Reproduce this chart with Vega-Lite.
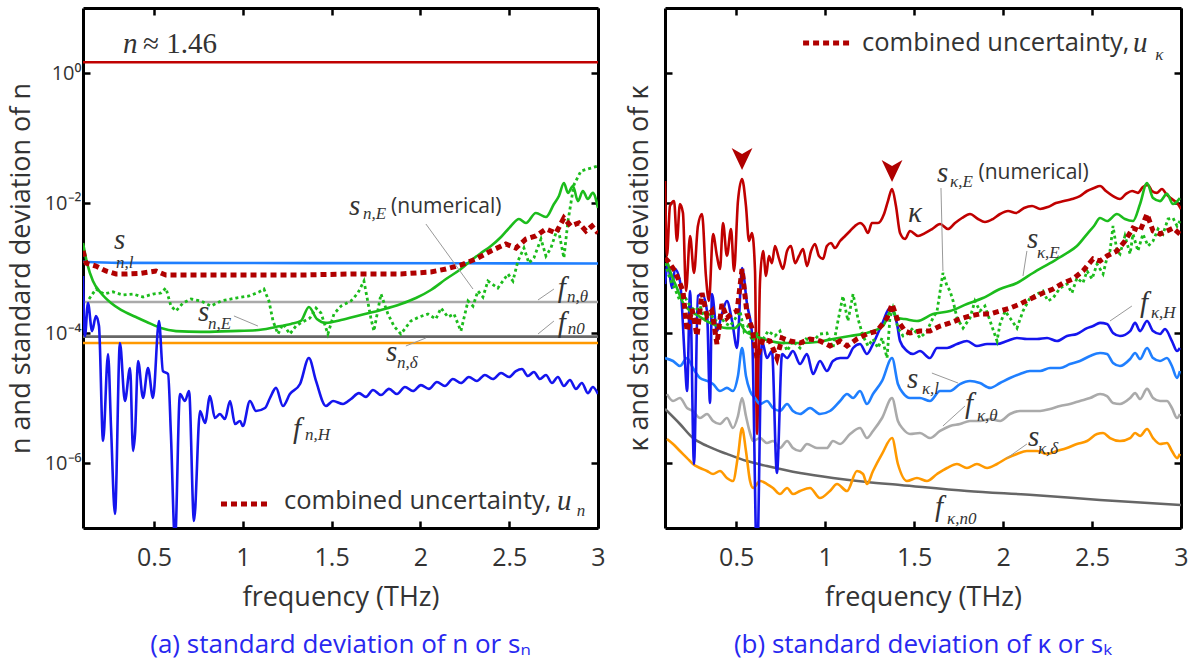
{
  "$schema": "https://vega.github.io/schema/vega-lite/v6.json",
  "padding": {"left": 7, "top": 6, "right": 0, "bottom": 6},
  "spacing": 19,
  "config": {
    "view": {"stroke": null},
    "axis": {"domainColor": "black", "domainWidth": 3, "tickColor": "black", "tickWidth": 2.5, "tickSize": -7, "labelColor": "#333333", "titleColor": "#333333", "labelFont": "Open Sans", "titleFont": "Open Sans", "titleFontWeight": "normal", "grid": false, "zindex": 1}
  },
  "datasets": {
    "a": [
      {"s":"n","f":0.1,"v":1.46},{"s":"n","f":3.0,"v":1.46},
      {"s":"s_nl","f":0.1,"v":1.25e-3},{"s":"s_nl","f":0.3,"v":1.2e-3},{"s":"s_nl","f":1.4,"v":1.19e-3},{"s":"s_nl","f":3.0,"v":1.17e-3},
      {"s":"f_ntheta","f":0.1,"v":3.0e-4},{"s":"f_ntheta","f":3.0,"v":3.0e-4},
      {"s":"f_n0","f":0.1,"v":8.8e-5},{"s":"f_n0","f":3.0,"v":8.8e-5},
      {"s":"s_ndelta","f":0.1,"v":7.0e-5},{"s":"s_ndelta","f":3.0,"v":7.0e-5},
      {"s":"s_nE","f":0.1,"v":2.42e-3},{"s":"s_nE","f":0.123,"v":1.19e-3},{"s":"s_nE","f":0.156,"v":6.31e-4},{"s":"s_nE","f":0.201,"v":4.12e-4},{"s":"s_nE","f":0.258,"v":2.89e-4},{"s":"s_nE","f":0.314,"v":2.26e-4},{"s":"s_nE","f":0.398,"v":1.76e-4},{"s":"s_nE","f":0.483,"v":1.38e-4},{"s":"s_nE","f":0.539,"v":1.19e-4},{"s":"s_nE","f":0.624,"v":1.07e-4},{"s":"s_nE","f":0.764,"v":1.04e-4},{"s":"s_nE","f":0.933,"v":1.07e-4},{"s":"s_nE","f":1.074,"v":1.1e-4},{"s":"s_nE","f":1.187,"v":1.24e-4},{"s":"s_nE","f":1.271,"v":1.38e-4},{"s":"s_nE","f":1.327,"v":1.53e-4},{"s":"s_nE","f":1.372,"v":2.51e-4},{"s":"s_nE","f":1.417,"v":1.64e-4},{"s":"s_nE","f":1.468,"v":1.43e-4},{"s":"s_nE","f":1.553,"v":1.58e-4},{"s":"s_nE","f":1.665,"v":1.89e-4},{"s":"s_nE","f":1.778,"v":2.26e-4},{"s":"s_nE","f":1.89,"v":2.79e-4},{"s":"s_nE","f":1.975,"v":3.45e-4},{"s":"s_nE","f":2.059,"v":4.59e-4},{"s":"s_nE","f":2.144,"v":6.77e-4},{"s":"s_nE","f":2.228,"v":9.65e-4},{"s":"s_nE","f":2.296,"v":1.38e-3},{"s":"s_nE","f":2.341,"v":1.7e-3},{"s":"s_nE","f":2.397,"v":2.18e-3},{"s":"s_nE","f":2.454,"v":3.0e-3},{"s":"s_nE","f":2.51,"v":4.43e-3},{"s":"s_nE","f":2.555,"v":5.67e-3},{"s":"s_nE","f":2.594,"v":4.92e-3},{"s":"s_nE","f":2.65,"v":7.02e-3},{"s":"s_nE","f":2.707,"v":6.09e-3},{"s":"s_nE","f":2.752,"v":9.65e-3},{"s":"s_nE","f":2.78,"v":1.28e-2},{"s":"s_nE","f":2.808,"v":2.03e-2},{"s":"s_nE","f":2.831,"v":1.43e-2},{"s":"s_nE","f":2.859,"v":1.83e-2},{"s":"s_nE","f":2.887,"v":1.07e-2},{"s":"s_nE","f":2.915,"v":1.53e-2},{"s":"s_nE","f":2.943,"v":1.15e-2},{"s":"s_nE","f":2.971,"v":1.43e-2},{"s":"s_nE","f":3.0,"v":8.38e-3},
      {"s":"f_nH","f":0.1,"v":7.53e-4},{"s":"f_nH","f":0.111,"v":9.0e-5},{"s":"f_nH","f":0.128,"v":2.89e-4},{"s":"f_nH","f":0.151,"v":1.07e-4},{"s":"f_nH","f":0.173,"v":1.83e-4},{"s":"f_nH","f":0.19,"v":1.28e-4},{"s":"f_nH","f":0.213,"v":2.18e-6},{"s":"f_nH","f":0.241,"v":4.75e-5},{"s":"f_nH","f":0.258,"v":3.45e-6},{"s":"f_nH","f":0.28,"v":1.64e-7},{"s":"f_nH","f":0.308,"v":7.02e-5},{"s":"f_nH","f":0.336,"v":9.0e-6},{"s":"f_nH","f":0.365,"v":2.89e-5},{"s":"f_nH","f":0.382,"v":1.53e-6},{"s":"f_nH","f":0.393,"v":2.79e-6},{"s":"f_nH","f":0.41,"v":3.71e-5},{"s":"f_nH","f":0.438,"v":1.0e-5},{"s":"f_nH","f":0.466,"v":2.89e-5},{"s":"f_nH","f":0.494,"v":1.0e-5},{"s":"f_nH","f":0.528,"v":1.53e-4},{"s":"f_nH","f":0.55,"v":2.6e-5},{"s":"f_nH","f":0.579,"v":2.34e-5},{"s":"f_nH","f":0.595,"v":2.79e-6},{"s":"f_nH","f":0.618,"v":6.3e-8},{"s":"f_nH","f":0.646,"v":1.15e-5},{"s":"f_nH","f":0.674,"v":9.0e-6},{"s":"f_nH","f":0.697,"v":1.28e-5},{"s":"f_nH","f":0.725,"v":1.28e-7},{"s":"f_nH","f":0.759,"v":6.31e-6},{"s":"f_nH","f":0.787,"v":4.12e-6},{"s":"f_nH","f":0.815,"v":1.07e-5},{"s":"f_nH","f":0.843,"v":4.92e-6},{"s":"f_nH","f":0.871,"v":5.67e-6},{"s":"f_nH","f":0.899,"v":4.75e-6},{"s":"f_nH","f":0.928,"v":9.0e-6},{"s":"f_nH","f":0.956,"v":3.98e-6},{"s":"f_nH","f":0.984,"v":4.43e-6},{"s":"f_nH","f":1.0,"v":3.71e-6},{"s":"f_nH","f":1.04,"v":9.0e-6},{"s":"f_nH","f":1.074,"v":6.31e-6},{"s":"f_nH","f":1.125,"v":7.02e-6},{"s":"f_nH","f":1.153,"v":1.0e-5},{"s":"f_nH","f":1.187,"v":1.43e-5},{"s":"f_nH","f":1.226,"v":7.53e-6},{"s":"f_nH","f":1.265,"v":1.15e-5},{"s":"f_nH","f":1.322,"v":1.64e-5},{"s":"f_nH","f":1.372,"v":4.12e-5},{"s":"f_nH","f":1.412,"v":1.83e-5},{"s":"f_nH","f":1.468,"v":7.53e-6},{"s":"f_nH","f":1.508,"v":9.0e-6},{"s":"f_nH","f":1.564,"v":8.09e-6},{"s":"f_nH","f":1.609,"v":9.65e-6},{"s":"f_nH","f":1.654,"v":1.19e-5},{"s":"f_nH","f":1.693,"v":1.04e-5},{"s":"f_nH","f":1.733,"v":1.33e-5},{"s":"f_nH","f":1.778,"v":1.11e-5},{"s":"f_nH","f":1.823,"v":1.38e-5},{"s":"f_nH","f":1.868,"v":1.15e-5},{"s":"f_nH","f":1.913,"v":1.48e-5},{"s":"f_nH","f":1.958,"v":1.28e-5},{"s":"f_nH","f":2.003,"v":1.58e-5},{"s":"f_nH","f":2.048,"v":1.38e-5},{"s":"f_nH","f":2.093,"v":1.76e-5},{"s":"f_nH","f":2.138,"v":1.53e-5},{"s":"f_nH","f":2.183,"v":1.96e-5},{"s":"f_nH","f":2.228,"v":1.7e-5},{"s":"f_nH","f":2.273,"v":2.1e-5},{"s":"f_nH","f":2.318,"v":1.83e-5},{"s":"f_nH","f":2.363,"v":2.26e-5},{"s":"f_nH","f":2.408,"v":1.96e-5},{"s":"f_nH","f":2.454,"v":2.42e-5},{"s":"f_nH","f":2.499,"v":2.1e-5},{"s":"f_nH","f":2.538,"v":2.6e-5},{"s":"f_nH","f":2.572,"v":2.79e-5},{"s":"f_nH","f":2.605,"v":2.18e-5},{"s":"f_nH","f":2.639,"v":2.51e-5},{"s":"f_nH","f":2.673,"v":1.96e-5},{"s":"f_nH","f":2.707,"v":2.26e-5},{"s":"f_nH","f":2.741,"v":1.7e-5},{"s":"f_nH","f":2.774,"v":2.1e-5},{"s":"f_nH","f":2.808,"v":1.53e-5},{"s":"f_nH","f":2.842,"v":1.89e-5},{"s":"f_nH","f":2.876,"v":1.38e-5},{"s":"f_nH","f":2.909,"v":1.7e-5},{"s":"f_nH","f":2.943,"v":1.19e-5},{"s":"f_nH","f":2.971,"v":1.48e-5},{"s":"f_nH","f":3.0,"v":1.15e-5},
      {"s":"s_nE_num","f":0.134,"v":3.33e-4},{"s":"s_nE_num","f":0.173,"v":4.75e-4},{"s":"s_nE_num","f":0.218,"v":3.98e-4},{"s":"s_nE_num","f":0.269,"v":4.3e-4},{"s":"s_nE_num","f":0.325,"v":3.84e-4},{"s":"s_nE_num","f":0.382,"v":3.98e-4},{"s":"s_nE_num","f":0.438,"v":3.58e-4},{"s":"s_nE_num","f":0.494,"v":3.98e-4},{"s":"s_nE_num","f":0.539,"v":4.12e-4},{"s":"s_nE_num","f":0.567,"v":4.92e-4},{"s":"s_nE_num","f":0.595,"v":2.6e-4},{"s":"s_nE_num","f":0.624,"v":2.18e-4},{"s":"s_nE_num","f":0.663,"v":2.89e-4},{"s":"s_nE_num","f":0.708,"v":3.33e-4},{"s":"s_nE_num","f":0.764,"v":3.11e-4},{"s":"s_nE_num","f":0.821,"v":2.6e-4},{"s":"s_nE_num","f":0.877,"v":3.11e-4},{"s":"s_nE_num","f":0.961,"v":3.45e-4},{"s":"s_nE_num","f":1.035,"v":3.71e-4},{"s":"s_nE_num","f":1.091,"v":4.27e-4},{"s":"s_nE_num","f":1.119,"v":4.75e-4},{"s":"s_nE_num","f":1.147,"v":3.11e-4},{"s":"s_nE_num","f":1.17,"v":1.53e-4},{"s":"s_nE_num","f":1.198,"v":9.65e-5},{"s":"s_nE_num","f":1.226,"v":1.38e-4},{"s":"s_nE_num","f":1.265,"v":9.65e-5},{"s":"s_nE_num","f":1.299,"v":1.28e-4},{"s":"s_nE_num","f":1.327,"v":1.43e-4},{"s":"s_nE_num","f":1.378,"v":1.7e-4},{"s":"s_nE_num","f":1.412,"v":2.42e-4},{"s":"s_nE_num","f":1.44,"v":2.03e-4},{"s":"s_nE_num","f":1.479,"v":9.65e-5},{"s":"s_nE_num","f":1.513,"v":1.96e-4},{"s":"s_nE_num","f":1.553,"v":2.6e-4},{"s":"s_nE_num","f":1.609,"v":3.11e-4},{"s":"s_nE_num","f":1.648,"v":4.12e-4},{"s":"s_nE_num","f":1.682,"v":6.31e-4},{"s":"s_nE_num","f":1.721,"v":1.7e-4},{"s":"s_nE_num","f":1.738,"v":1.07e-4},{"s":"s_nE_num","f":1.778,"v":3.98e-4},{"s":"s_nE_num","f":1.817,"v":1.96e-4},{"s":"s_nE_num","f":1.851,"v":1.28e-4},{"s":"s_nE_num","f":1.89,"v":9.65e-5},{"s":"s_nE_num","f":1.946,"v":1.53e-4},{"s":"s_nE_num","f":1.992,"v":1.76e-4},{"s":"s_nE_num","f":2.042,"v":1.96e-4},{"s":"s_nE_num","f":2.087,"v":1.64e-4},{"s":"s_nE_num","f":2.116,"v":2.42e-4},{"s":"s_nE_num","f":2.155,"v":1.76e-4},{"s":"s_nE_num","f":2.189,"v":1.96e-4},{"s":"s_nE_num","f":2.228,"v":1.07e-4},{"s":"s_nE_num","f":2.268,"v":3.11e-4},{"s":"s_nE_num","f":2.296,"v":2.6e-4},{"s":"s_nE_num","f":2.324,"v":4.43e-4},{"s":"s_nE_num","f":2.352,"v":3.58e-4},{"s":"s_nE_num","f":2.38,"v":6.31e-4},{"s":"s_nE_num","f":2.436,"v":4.92e-4},{"s":"s_nE_num","f":2.493,"v":8.09e-4},{"s":"s_nE_num","f":2.521,"v":6.31e-4},{"s":"s_nE_num","f":2.549,"v":1.28e-3},{"s":"s_nE_num","f":2.583,"v":2.03e-3},{"s":"s_nE_num","f":2.611,"v":1.19e-3},{"s":"s_nE_num","f":2.639,"v":1.43e-3},{"s":"s_nE_num","f":2.679,"v":2.79e-3},{"s":"s_nE_num","f":2.707,"v":1.53e-3},{"s":"s_nE_num","f":2.735,"v":2.03e-3},{"s":"s_nE_num","f":2.774,"v":4.27e-3},{"s":"s_nE_num","f":2.808,"v":1.43e-3},{"s":"s_nE_num","f":2.831,"v":5.28e-3},{"s":"s_nE_num","f":2.864,"v":1.89e-2},{"s":"s_nE_num","f":2.904,"v":3.11e-2},{"s":"s_nE_num","f":2.96,"v":3.45e-2},{"s":"s_nE_num","f":3.0,"v":3.71e-2},
      {"s":"u_n","f":0.1,"v":1.83e-3},{"s":"u_n","f":0.117,"v":1.19e-3},{"s":"u_n","f":0.173,"v":1.07e-3},{"s":"u_n","f":0.229,"v":9.0e-4},{"s":"u_n","f":0.286,"v":8.09e-4},{"s":"u_n","f":0.342,"v":8.09e-4},{"s":"u_n","f":0.427,"v":8.3e-4},{"s":"u_n","f":0.511,"v":9.0e-4},{"s":"u_n","f":0.567,"v":7.8e-4},{"s":"u_n","f":0.764,"v":7.8e-4},{"s":"u_n","f":1.046,"v":7.8e-4},{"s":"u_n","f":1.327,"v":7.8e-4},{"s":"u_n","f":1.609,"v":8.09e-4},{"s":"u_n","f":1.89,"v":8.09e-4},{"s":"u_n","f":2.059,"v":8.68e-4},{"s":"u_n","f":2.144,"v":9.65e-4},{"s":"u_n","f":2.228,"v":1.11e-3},{"s":"u_n","f":2.313,"v":1.38e-3},{"s":"u_n","f":2.397,"v":1.83e-3},{"s":"u_n","f":2.481,"v":2.34e-3},{"s":"u_n","f":2.538,"v":2.03e-3},{"s":"u_n","f":2.594,"v":2.79e-3},{"s":"u_n","f":2.65,"v":3.11e-3},{"s":"u_n","f":2.707,"v":3.98e-3},{"s":"u_n","f":2.763,"v":3.45e-3},{"s":"u_n","f":2.808,"v":5.88e-3},{"s":"u_n","f":2.847,"v":4.43e-3},{"s":"u_n","f":2.892,"v":4.92e-3},{"s":"u_n","f":2.932,"v":3.71e-3},{"s":"u_n","f":2.966,"v":4.43e-3},{"s":"u_n","f":3.0,"v":3.45e-3}
    ],
    "b": [
      {"s":"kappa","f":0.1,"v":2.18e-2},{"s":"kappa","f":0.111,"v":1.53e-3},{"s":"kappa","f":0.128,"v":9.0e-3},{"s":"kappa","f":0.151,"v":1.07e-2},{"s":"kappa","f":0.167,"v":2.6e-3},{"s":"kappa","f":0.184,"v":9.65e-3},{"s":"kappa","f":0.201,"v":7.02e-3},{"s":"kappa","f":0.218,"v":4.43e-4},{"s":"kappa","f":0.241,"v":3.11e-3},{"s":"kappa","f":0.263,"v":8.38e-4},{"s":"kappa","f":0.285,"v":4.43e-3},{"s":"kappa","f":0.308,"v":6.77e-3},{"s":"kappa","f":0.33,"v":7.53e-4},{"s":"kappa","f":0.347,"v":3.11e-4},{"s":"kappa","f":0.37,"v":3.33e-3},{"s":"kappa","f":0.392,"v":1.53e-3},{"s":"kappa","f":0.409,"v":9.65e-4},{"s":"kappa","f":0.426,"v":4.92e-3},{"s":"kappa","f":0.448,"v":1.53e-3},{"s":"kappa","f":0.471,"v":3.98e-3},{"s":"kappa","f":0.488,"v":9.0e-4},{"s":"kappa","f":0.51,"v":1.07e-2},{"s":"kappa","f":0.533,"v":2.34e-2},{"s":"kappa","f":0.555,"v":9.0e-3},{"s":"kappa","f":0.572,"v":2.6e-3},{"s":"kappa","f":0.589,"v":3.45e-3},{"s":"kappa","f":0.606,"v":9.0e-4},{"s":"kappa","f":0.617,"v":2.79e-6},{"s":"kappa","f":0.634,"v":6.31e-4},{"s":"kappa","f":0.651,"v":1.83e-3},{"s":"kappa","f":0.668,"v":7.53e-4},{"s":"kappa","f":0.684,"v":1.53e-3},{"s":"kappa","f":0.701,"v":1.19e-3},{"s":"kappa","f":0.718,"v":2.18e-3},{"s":"kappa","f":0.741,"v":1.38e-3},{"s":"kappa","f":0.763,"v":9.65e-4},{"s":"kappa","f":0.786,"v":1.83e-3},{"s":"kappa","f":0.808,"v":2.18e-3},{"s":"kappa","f":0.831,"v":1.19e-3},{"s":"kappa","f":0.853,"v":1.53e-3},{"s":"kappa","f":0.876,"v":1.96e-3},{"s":"kappa","f":0.898,"v":1.07e-3},{"s":"kappa","f":0.921,"v":1.83e-3},{"s":"kappa","f":0.943,"v":2.34e-3},{"s":"kappa","f":0.965,"v":1.53e-3},{"s":"kappa","f":0.988,"v":1.38e-3},{"s":"kappa","f":1.01,"v":2.18e-3},{"s":"kappa","f":1.033,"v":2.42e-3},{"s":"kappa","f":1.055,"v":2.03e-3},{"s":"kappa","f":1.084,"v":2.6e-3},{"s":"kappa","f":1.112,"v":3.11e-3},{"s":"kappa","f":1.14,"v":3.71e-3},{"s":"kappa","f":1.168,"v":4.43e-3},{"s":"kappa","f":1.196,"v":4.92e-3},{"s":"kappa","f":1.218,"v":4.43e-3},{"s":"kappa","f":1.241,"v":3.45e-3},{"s":"kappa","f":1.263,"v":4.92e-3},{"s":"kappa","f":1.297,"v":4.92e-3},{"s":"kappa","f":1.331,"v":6.77e-3},{"s":"kappa","f":1.353,"v":1.07e-2},{"s":"kappa","f":1.376,"v":1.64e-2},{"s":"kappa","f":1.398,"v":9.0e-3},{"s":"kappa","f":1.421,"v":3.45e-3},{"s":"kappa","f":1.449,"v":2.79e-3},{"s":"kappa","f":1.477,"v":3.71e-3},{"s":"kappa","f":1.522,"v":3.11e-3},{"s":"kappa","f":1.561,"v":3.45e-3},{"s":"kappa","f":1.601,"v":3.98e-3},{"s":"kappa","f":1.646,"v":4.75e-3},{"s":"kappa","f":1.69,"v":3.98e-3},{"s":"kappa","f":1.73,"v":4.92e-3},{"s":"kappa","f":1.769,"v":5.88e-3},{"s":"kappa","f":1.814,"v":6.77e-3},{"s":"kappa","f":1.859,"v":5.67e-3},{"s":"kappa","f":1.898,"v":5.1e-3},{"s":"kappa","f":1.943,"v":5.67e-3},{"s":"kappa","f":1.983,"v":6.77e-3},{"s":"kappa","f":2.028,"v":7.53e-3},{"s":"kappa","f":2.073,"v":7.02e-3},{"s":"kappa","f":2.118,"v":8.38e-3},{"s":"kappa","f":2.163,"v":9.0e-3},{"s":"kappa","f":2.208,"v":8.09e-3},{"s":"kappa","f":2.252,"v":8.68e-3},{"s":"kappa","f":2.297,"v":1.0e-2},{"s":"kappa","f":2.342,"v":1.07e-2},{"s":"kappa","f":2.387,"v":1.15e-2},{"s":"kappa","f":2.432,"v":1.28e-2},{"s":"kappa","f":2.472,"v":1.53e-2},{"s":"kappa","f":2.511,"v":1.7e-2},{"s":"kappa","f":2.545,"v":1.83e-2},{"s":"kappa","f":2.578,"v":1.53e-2},{"s":"kappa","f":2.618,"v":1.28e-2},{"s":"kappa","f":2.657,"v":1.15e-2},{"s":"kappa","f":2.691,"v":1.38e-2},{"s":"kappa","f":2.725,"v":1.53e-2},{"s":"kappa","f":2.758,"v":1.43e-2},{"s":"kappa","f":2.786,"v":1.76e-2},{"s":"kappa","f":2.815,"v":1.89e-2},{"s":"kappa","f":2.837,"v":1.53e-2},{"s":"kappa","f":2.865,"v":1.43e-2},{"s":"kappa","f":2.893,"v":1.64e-2},{"s":"kappa","f":2.921,"v":1.33e-2},{"s":"kappa","f":2.949,"v":1.15e-2},{"s":"kappa","f":2.978,"v":1.0e-2},{"s":"kappa","f":3.0,"v":8.09e-3},
      {"s":"f_kn0","f":0.1,"v":6.77e-6},{"s":"f_kn0","f":0.184,"v":3.98e-6},{"s":"f_kn0","f":0.257,"v":2.42e-6},{"s":"f_kn0","f":0.336,"v":1.83e-6},{"s":"f_kn0","f":0.448,"v":1.38e-6},{"s":"f_kn0","f":0.561,"v":1.07e-6},{"s":"f_kn0","f":0.673,"v":9.0e-7},{"s":"f_kn0","f":0.859,"v":7.02e-7},{"s":"f_kn0","f":1.044,"v":5.88e-7},{"s":"f_kn0","f":1.235,"v":5.1e-7},{"s":"f_kn0","f":1.421,"v":4.59e-7},{"s":"f_kn0","f":1.797,"v":3.71e-7},{"s":"f_kn0","f":2.168,"v":3.22e-7},{"s":"f_kn0","f":2.545,"v":2.7e-7},{"s":"f_kn0","f":3.0,"v":2.26e-7},
      {"s":"s_kdelta","f":0.111,"v":2.34e-6},{"s":"s_kdelta","f":0.145,"v":1.96e-6},{"s":"s_kdelta","f":0.184,"v":1.53e-6},{"s":"s_kdelta","f":0.224,"v":1.19e-6},{"s":"s_kdelta","f":0.257,"v":9.65e-7},{"s":"s_kdelta","f":0.297,"v":8.38e-7},{"s":"s_kdelta","f":0.336,"v":7.53e-7},{"s":"s_kdelta","f":0.37,"v":6.77e-7},{"s":"s_kdelta","f":0.409,"v":7.53e-7},{"s":"s_kdelta","f":0.448,"v":5.88e-7},{"s":"s_kdelta","f":0.482,"v":5.28e-7},{"s":"s_kdelta","f":0.51,"v":1.28e-6},{"s":"s_kdelta","f":0.533,"v":3.45e-6},{"s":"s_kdelta","f":0.555,"v":1.53e-6},{"s":"s_kdelta","f":0.578,"v":5.28e-7},{"s":"s_kdelta","f":0.595,"v":4.12e-7},{"s":"s_kdelta","f":0.634,"v":5.28e-7},{"s":"s_kdelta","f":0.673,"v":4.75e-7},{"s":"s_kdelta","f":0.707,"v":4.12e-7},{"s":"s_kdelta","f":0.746,"v":3.33e-7},{"s":"s_kdelta","f":0.786,"v":4.12e-7},{"s":"s_kdelta","f":0.819,"v":3.33e-7},{"s":"s_kdelta","f":0.859,"v":3.71e-7},{"s":"s_kdelta","f":0.915,"v":4.12e-7},{"s":"s_kdelta","f":0.971,"v":2.89e-7},{"s":"s_kdelta","f":1.027,"v":3.71e-7},{"s":"s_kdelta","f":1.067,"v":4.75e-7},{"s":"s_kdelta","f":1.123,"v":3.71e-7},{"s":"s_kdelta","f":1.179,"v":7.53e-7},{"s":"s_kdelta","f":1.213,"v":6.77e-7},{"s":"s_kdelta","f":1.235,"v":4.75e-7},{"s":"s_kdelta","f":1.269,"v":7.53e-7},{"s":"s_kdelta","f":1.32,"v":1.38e-6},{"s":"s_kdelta","f":1.376,"v":2.42e-6},{"s":"s_kdelta","f":1.409,"v":9.65e-7},{"s":"s_kdelta","f":1.46,"v":5.28e-7},{"s":"s_kdelta","f":1.516,"v":5.88e-7},{"s":"s_kdelta","f":1.572,"v":5.28e-7},{"s":"s_kdelta","f":1.629,"v":6.77e-7},{"s":"s_kdelta","f":1.685,"v":8.38e-7},{"s":"s_kdelta","f":1.741,"v":9.65e-7},{"s":"s_kdelta","f":1.797,"v":8.38e-7},{"s":"s_kdelta","f":1.853,"v":9.65e-7},{"s":"s_kdelta","f":1.91,"v":8.38e-7},{"s":"s_kdelta","f":1.966,"v":9.65e-7},{"s":"s_kdelta","f":2.022,"v":1.19e-6},{"s":"s_kdelta","f":2.078,"v":1.38e-6},{"s":"s_kdelta","f":2.134,"v":1.53e-6},{"s":"s_kdelta","f":2.191,"v":1.53e-6},{"s":"s_kdelta","f":2.247,"v":1.38e-6},{"s":"s_kdelta","f":2.303,"v":1.53e-6},{"s":"s_kdelta","f":2.359,"v":1.7e-6},{"s":"s_kdelta","f":2.415,"v":1.96e-6},{"s":"s_kdelta","f":2.472,"v":2.18e-6},{"s":"s_kdelta","f":2.528,"v":2.79e-6},{"s":"s_kdelta","f":2.562,"v":2.89e-6},{"s":"s_kdelta","f":2.601,"v":2.42e-6},{"s":"s_kdelta","f":2.657,"v":2.18e-6},{"s":"s_kdelta","f":2.714,"v":2.42e-6},{"s":"s_kdelta","f":2.742,"v":2.89e-6},{"s":"s_kdelta","f":2.77,"v":2.6e-6},{"s":"s_kdelta","f":2.809,"v":3.33e-6},{"s":"s_kdelta","f":2.843,"v":2.42e-6},{"s":"s_kdelta","f":2.882,"v":1.96e-6},{"s":"s_kdelta","f":2.921,"v":2.03e-6},{"s":"s_kdelta","f":2.949,"v":1.53e-6},{"s":"s_kdelta","f":2.978,"v":1.19e-6},{"s":"s_kdelta","f":2.994,"v":1.38e-6},
      {"s":"f_ktheta","f":0.111,"v":1.15e-5},{"s":"f_ktheta","f":0.145,"v":9.0e-6},{"s":"f_ktheta","f":0.184,"v":1.0e-5},{"s":"f_ktheta","f":0.224,"v":7.02e-6},{"s":"f_ktheta","f":0.257,"v":6.31e-6},{"s":"f_ktheta","f":0.297,"v":4.92e-6},{"s":"f_ktheta","f":0.336,"v":5.67e-6},{"s":"f_ktheta","f":0.37,"v":4.43e-6},{"s":"f_ktheta","f":0.409,"v":3.98e-6},{"s":"f_ktheta","f":0.448,"v":4.92e-6},{"s":"f_ktheta","f":0.482,"v":3.45e-6},{"s":"f_ktheta","f":0.51,"v":5.28e-6},{"s":"f_ktheta","f":0.533,"v":1.0e-5},{"s":"f_ktheta","f":0.555,"v":5.28e-6},{"s":"f_ktheta","f":0.578,"v":2.89e-6},{"s":"f_ktheta","f":0.595,"v":2.18e-6},{"s":"f_ktheta","f":0.634,"v":2.42e-6},{"s":"f_ktheta","f":0.673,"v":2.03e-6},{"s":"f_ktheta","f":0.707,"v":2.18e-6},{"s":"f_ktheta","f":0.746,"v":1.7e-6},{"s":"f_ktheta","f":0.786,"v":2.18e-6},{"s":"f_ktheta","f":0.819,"v":1.7e-6},{"s":"f_ktheta","f":0.859,"v":1.53e-6},{"s":"f_ktheta","f":0.898,"v":1.96e-6},{"s":"f_ktheta","f":0.954,"v":1.7e-6},{"s":"f_ktheta","f":1.01,"v":1.7e-6},{"s":"f_ktheta","f":1.044,"v":2.18e-6},{"s":"f_ktheta","f":1.084,"v":1.96e-6},{"s":"f_ktheta","f":1.14,"v":2.79e-6},{"s":"f_ktheta","f":1.196,"v":3.45e-6},{"s":"f_ktheta","f":1.235,"v":2.42e-6},{"s":"f_ktheta","f":1.269,"v":3.11e-6},{"s":"f_ktheta","f":1.32,"v":4.92e-6},{"s":"f_ktheta","f":1.376,"v":1.0e-5},{"s":"f_ktheta","f":1.409,"v":4.43e-6},{"s":"f_ktheta","f":1.438,"v":3.33e-6},{"s":"f_ktheta","f":1.477,"v":2.79e-6},{"s":"f_ktheta","f":1.533,"v":2.89e-6},{"s":"f_ktheta","f":1.589,"v":2.42e-6},{"s":"f_ktheta","f":1.646,"v":3.11e-6},{"s":"f_ktheta","f":1.702,"v":3.71e-6},{"s":"f_ktheta","f":1.758,"v":3.98e-6},{"s":"f_ktheta","f":1.814,"v":4.43e-6},{"s":"f_ktheta","f":1.87,"v":4.43e-6},{"s":"f_ktheta","f":1.927,"v":4.75e-6},{"s":"f_ktheta","f":1.983,"v":4.43e-6},{"s":"f_ktheta","f":2.039,"v":5.67e-6},{"s":"f_ktheta","f":2.095,"v":6.31e-6},{"s":"f_ktheta","f":2.151,"v":6.31e-6},{"s":"f_ktheta","f":2.208,"v":6.31e-6},{"s":"f_ktheta","f":2.264,"v":6.77e-6},{"s":"f_ktheta","f":2.32,"v":7.53e-6},{"s":"f_ktheta","f":2.376,"v":8.09e-6},{"s":"f_ktheta","f":2.432,"v":9.0e-6},{"s":"f_ktheta","f":2.489,"v":1.0e-5},{"s":"f_ktheta","f":2.545,"v":1.15e-5},{"s":"f_ktheta","f":2.584,"v":1.07e-5},{"s":"f_ktheta","f":2.618,"v":8.38e-6},{"s":"f_ktheta","f":2.657,"v":8.09e-6},{"s":"f_ktheta","f":2.714,"v":1.0e-5},{"s":"f_ktheta","f":2.742,"v":1.19e-5},{"s":"f_ktheta","f":2.77,"v":9.65e-6},{"s":"f_ktheta","f":2.809,"v":1.38e-5},{"s":"f_ktheta","f":2.843,"v":1.0e-5},{"s":"f_ktheta","f":2.882,"v":9.0e-6},{"s":"f_ktheta","f":2.921,"v":9.0e-6},{"s":"f_ktheta","f":2.949,"v":7.02e-6},{"s":"f_ktheta","f":2.978,"v":4.92e-6},{"s":"f_ktheta","f":2.994,"v":5.67e-6},
      {"s":"s_kl","f":0.1,"v":4.12e-5},{"s":"s_kl","f":0.145,"v":3.71e-5},{"s":"s_kl","f":0.184,"v":3.11e-5},{"s":"s_kl","f":0.224,"v":4.12e-5},{"s":"s_kl","f":0.257,"v":2.89e-5},{"s":"s_kl","f":0.297,"v":2.03e-5},{"s":"s_kl","f":0.336,"v":1.83e-5},{"s":"s_kl","f":0.37,"v":1.64e-5},{"s":"s_kl","f":0.409,"v":1.28e-5},{"s":"s_kl","f":0.448,"v":1.43e-5},{"s":"s_kl","f":0.482,"v":1.28e-5},{"s":"s_kl","f":0.51,"v":2.18e-5},{"s":"s_kl","f":0.533,"v":5.88e-5},{"s":"s_kl","f":0.555,"v":2.18e-5},{"s":"s_kl","f":0.578,"v":1.28e-5},{"s":"s_kl","f":0.606,"v":1.0e-5},{"s":"s_kl","f":0.634,"v":8.09e-6},{"s":"s_kl","f":0.673,"v":9.0e-6},{"s":"s_kl","f":0.707,"v":7.02e-6},{"s":"s_kl","f":0.746,"v":6.31e-6},{"s":"s_kl","f":0.786,"v":8.09e-6},{"s":"s_kl","f":0.819,"v":6.31e-6},{"s":"s_kl","f":0.859,"v":5.67e-6},{"s":"s_kl","f":0.915,"v":7.02e-6},{"s":"s_kl","f":0.971,"v":5.67e-6},{"s":"s_kl","f":1.027,"v":6.31e-6},{"s":"s_kl","f":1.084,"v":9.0e-6},{"s":"s_kl","f":1.123,"v":1.15e-5},{"s":"s_kl","f":1.157,"v":1.0e-5},{"s":"s_kl","f":1.196,"v":1.28e-5},{"s":"s_kl","f":1.235,"v":8.09e-6},{"s":"s_kl","f":1.269,"v":1.15e-5},{"s":"s_kl","f":1.32,"v":1.83e-5},{"s":"s_kl","f":1.376,"v":4.12e-5},{"s":"s_kl","f":1.409,"v":1.64e-5},{"s":"s_kl","f":1.438,"v":1.19e-5},{"s":"s_kl","f":1.477,"v":1.0e-5},{"s":"s_kl","f":1.533,"v":1.0e-5},{"s":"s_kl","f":1.589,"v":9.0e-6},{"s":"s_kl","f":1.646,"v":1.28e-5},{"s":"s_kl","f":1.702,"v":1.28e-5},{"s":"s_kl","f":1.758,"v":1.64e-5},{"s":"s_kl","f":1.814,"v":1.83e-5},{"s":"s_kl","f":1.87,"v":1.7e-5},{"s":"s_kl","f":1.927,"v":1.43e-5},{"s":"s_kl","f":1.983,"v":1.7e-5},{"s":"s_kl","f":2.039,"v":2.03e-5},{"s":"s_kl","f":2.095,"v":2.34e-5},{"s":"s_kl","f":2.151,"v":2.6e-5},{"s":"s_kl","f":2.208,"v":2.6e-5},{"s":"s_kl","f":2.264,"v":2.89e-5},{"s":"s_kl","f":2.32,"v":2.89e-5},{"s":"s_kl","f":2.376,"v":3.33e-5},{"s":"s_kl","f":2.432,"v":3.71e-5},{"s":"s_kl","f":2.489,"v":4.43e-5},{"s":"s_kl","f":2.545,"v":4.92e-5},{"s":"s_kl","f":2.584,"v":4.75e-5},{"s":"s_kl","f":2.618,"v":3.45e-5},{"s":"s_kl","f":2.657,"v":3.11e-5},{"s":"s_kl","f":2.714,"v":3.98e-5},{"s":"s_kl","f":2.742,"v":4.92e-5},{"s":"s_kl","f":2.77,"v":3.98e-5},{"s":"s_kl","f":2.809,"v":5.88e-5},{"s":"s_kl","f":2.843,"v":4.12e-5},{"s":"s_kl","f":2.882,"v":3.71e-5},{"s":"s_kl","f":2.921,"v":4.12e-5},{"s":"s_kl","f":2.949,"v":3.11e-5},{"s":"s_kl","f":2.978,"v":2.03e-5},{"s":"s_kl","f":2.994,"v":2.6e-5},
      {"s":"f_kH","f":0.1,"v":5.67e-4},{"s":"f_kH","f":0.117,"v":1.15e-3},{"s":"f_kH","f":0.139,"v":4.92e-4},{"s":"f_kH","f":0.156,"v":9.65e-4},{"s":"f_kH","f":0.184,"v":6.31e-4},{"s":"f_kH","f":0.212,"v":3.71e-5},{"s":"f_kH","f":0.224,"v":1.28e-5},{"s":"f_kH","f":0.241,"v":4.43e-4},{"s":"f_kH","f":0.263,"v":9.65e-7},{"s":"f_kH","f":0.285,"v":3.71e-4},{"s":"f_kH","f":0.308,"v":3.98e-4},{"s":"f_kH","f":0.336,"v":2.18e-4},{"s":"f_kH","f":0.353,"v":8.38e-6},{"s":"f_kH","f":0.364,"v":3.98e-4},{"s":"f_kH","f":0.392,"v":1.07e-4},{"s":"f_kH","f":0.42,"v":1.96e-4},{"s":"f_kH","f":0.448,"v":3.11e-4},{"s":"f_kH","f":0.477,"v":1.53e-4},{"s":"f_kH","f":0.505,"v":5.88e-5},{"s":"f_kH","f":0.533,"v":1.0e-3},{"s":"f_kH","f":0.561,"v":2.79e-4},{"s":"f_kH","f":0.589,"v":9.65e-5},{"s":"f_kH","f":0.617,"v":3.0e-8},{"s":"f_kH","f":0.645,"v":7.53e-5},{"s":"f_kH","f":0.673,"v":4.12e-5},{"s":"f_kH","f":0.701,"v":5.28e-5},{"s":"f_kH","f":0.729,"v":7.02e-7},{"s":"f_kH","f":0.758,"v":4.75e-5},{"s":"f_kH","f":0.786,"v":4.12e-5},{"s":"f_kH","f":0.819,"v":5.28e-5},{"s":"f_kH","f":0.859,"v":3.33e-5},{"s":"f_kH","f":0.898,"v":4.75e-5},{"s":"f_kH","f":0.932,"v":2.34e-5},{"s":"f_kH","f":0.971,"v":3.71e-5},{"s":"f_kH","f":1.01,"v":2.6e-5},{"s":"f_kH","f":1.044,"v":3.71e-5},{"s":"f_kH","f":1.084,"v":4.12e-5},{"s":"f_kH","f":1.123,"v":4.12e-5},{"s":"f_kH","f":1.157,"v":5.88e-5},{"s":"f_kH","f":1.196,"v":6.77e-5},{"s":"f_kH","f":1.235,"v":4.75e-5},{"s":"f_kH","f":1.269,"v":6.77e-5},{"s":"f_kH","f":1.32,"v":1.38e-4},{"s":"f_kH","f":1.364,"v":2.42e-4},{"s":"f_kH","f":1.404,"v":1.38e-4},{"s":"f_kH","f":1.421,"v":7.53e-5},{"s":"f_kH","f":1.46,"v":5.28e-5},{"s":"f_kH","f":1.494,"v":4.75e-5},{"s":"f_kH","f":1.533,"v":5.28e-5},{"s":"f_kH","f":1.589,"v":4.12e-5},{"s":"f_kH","f":1.629,"v":5.88e-5},{"s":"f_kH","f":1.685,"v":5.88e-5},{"s":"f_kH","f":1.741,"v":6.77e-5},{"s":"f_kH","f":1.797,"v":7.53e-5},{"s":"f_kH","f":1.853,"v":6.31e-5},{"s":"f_kH","f":1.91,"v":6.77e-5},{"s":"f_kH","f":1.966,"v":6.77e-5},{"s":"f_kH","f":2.022,"v":7.53e-5},{"s":"f_kH","f":2.078,"v":8.38e-5},{"s":"f_kH","f":2.134,"v":8.09e-5},{"s":"f_kH","f":2.191,"v":8.09e-5},{"s":"f_kH","f":2.247,"v":8.38e-5},{"s":"f_kH","f":2.303,"v":7.53e-5},{"s":"f_kH","f":2.359,"v":9.0e-5},{"s":"f_kH","f":2.415,"v":9.65e-5},{"s":"f_kH","f":2.472,"v":1.19e-4},{"s":"f_kH","f":2.506,"v":1.28e-4},{"s":"f_kH","f":2.545,"v":1.43e-4},{"s":"f_kH","f":2.584,"v":1.38e-4},{"s":"f_kH","f":2.618,"v":1.0e-4},{"s":"f_kH","f":2.657,"v":9.0e-5},{"s":"f_kH","f":2.714,"v":1.07e-4},{"s":"f_kH","f":2.742,"v":1.43e-4},{"s":"f_kH","f":2.77,"v":1.07e-4},{"s":"f_kH","f":2.809,"v":1.53e-4},{"s":"f_kH","f":2.843,"v":1.07e-4},{"s":"f_kH","f":2.882,"v":9.65e-5},{"s":"f_kH","f":2.91,"v":1.15e-4},{"s":"f_kH","f":2.949,"v":7.53e-5},{"s":"f_kH","f":2.978,"v":5.28e-5},{"s":"f_kH","f":2.994,"v":5.88e-5},
      {"s":"s_kE","f":0.111,"v":1.28e-3},{"s":"s_kE","f":0.139,"v":7.53e-4},{"s":"s_kE","f":0.167,"v":4.92e-4},{"s":"s_kE","f":0.196,"v":3.11e-4},{"s":"s_kE","f":0.224,"v":2.42e-4},{"s":"s_kE","f":0.28,"v":1.89e-4},{"s":"s_kE","f":0.353,"v":1.43e-4},{"s":"s_kE","f":0.448,"v":1.19e-4},{"s":"s_kE","f":0.493,"v":1.19e-4},{"s":"s_kE","f":0.521,"v":1.38e-4},{"s":"s_kE","f":0.55,"v":1.07e-4},{"s":"s_kE","f":0.606,"v":9.0e-5},{"s":"s_kE","f":0.673,"v":7.8e-5},{"s":"s_kE","f":0.763,"v":7.02e-5},{"s":"s_kE","f":0.859,"v":7.02e-5},{"s":"s_kE","f":0.954,"v":7.27e-5},{"s":"s_kE","f":1.044,"v":8.09e-5},{"s":"s_kE","f":1.14,"v":9.0e-5},{"s":"s_kE","f":1.235,"v":1.0e-4},{"s":"s_kE","f":1.325,"v":1.28e-4},{"s":"s_kE","f":1.376,"v":2.34e-4},{"s":"s_kE","f":1.404,"v":1.7e-4},{"s":"s_kE","f":1.449,"v":1.64e-4},{"s":"s_kE","f":1.516,"v":1.53e-4},{"s":"s_kE","f":1.606,"v":1.96e-4},{"s":"s_kE","f":1.702,"v":2.18e-4},{"s":"s_kE","f":1.797,"v":2.79e-4},{"s":"s_kE","f":1.887,"v":3.45e-4},{"s":"s_kE","f":1.983,"v":4.75e-4},{"s":"s_kE","f":2.078,"v":5.88e-4},{"s":"s_kE","f":2.168,"v":8.38e-4},{"s":"s_kE","f":2.264,"v":1.19e-3},{"s":"s_kE","f":2.359,"v":1.7e-3},{"s":"s_kE","f":2.415,"v":2.18e-3},{"s":"s_kE","f":2.472,"v":3.33e-3},{"s":"s_kE","f":2.511,"v":4.43e-3},{"s":"s_kE","f":2.545,"v":5.88e-3},{"s":"s_kE","f":2.584,"v":5.28e-3},{"s":"s_kE","f":2.64,"v":6.77e-3},{"s":"s_kE","f":2.685,"v":5.67e-3},{"s":"s_kE","f":2.73,"v":5.28e-3},{"s":"s_kE","f":2.77,"v":9.65e-3},{"s":"s_kE","f":2.809,"v":2.03e-2},{"s":"s_kE","f":2.843,"v":1.19e-2},{"s":"s_kE","f":2.882,"v":1.07e-2},{"s":"s_kE","f":2.921,"v":1.38e-2},{"s":"s_kE","f":2.955,"v":9.65e-3},{"s":"s_kE","f":2.994,"v":1.19e-2},
      {"s":"s_kE_num","f":0.1,"v":1.19e-3},{"s":"s_kE_num","f":0.128,"v":6.77e-4},{"s":"s_kE_num","f":0.156,"v":4.75e-4},{"s":"s_kE_num","f":0.184,"v":3.11e-4},{"s":"s_kE_num","f":0.212,"v":3.58e-4},{"s":"s_kE_num","f":0.241,"v":2.6e-4},{"s":"s_kE_num","f":0.269,"v":2.18e-4},{"s":"s_kE_num","f":0.297,"v":2.6e-4},{"s":"s_kE_num","f":0.325,"v":1.64e-4},{"s":"s_kE_num","f":0.353,"v":2.03e-4},{"s":"s_kE_num","f":0.381,"v":1.53e-4},{"s":"s_kE_num","f":0.409,"v":1.83e-4},{"s":"s_kE_num","f":0.437,"v":1.43e-4},{"s":"s_kE_num","f":0.465,"v":1.28e-4},{"s":"s_kE_num","f":0.493,"v":1.64e-4},{"s":"s_kE_num","f":0.522,"v":2.18e-4},{"s":"s_kE_num","f":0.544,"v":1.07e-4},{"s":"s_kE_num","f":0.566,"v":1.28e-4},{"s":"s_kE_num","f":0.589,"v":7.53e-5},{"s":"s_kE_num","f":0.617,"v":9.65e-5},{"s":"s_kE_num","f":0.645,"v":7.53e-5},{"s":"s_kE_num","f":0.679,"v":1.07e-4},{"s":"s_kE_num","f":0.718,"v":9.0e-5},{"s":"s_kE_num","f":0.746,"v":1.07e-4},{"s":"s_kE_num","f":0.786,"v":5.28e-5},{"s":"s_kE_num","f":0.819,"v":7.53e-5},{"s":"s_kE_num","f":0.859,"v":5.88e-5},{"s":"s_kE_num","f":0.892,"v":8.09e-5},{"s":"s_kE_num","f":0.932,"v":7.53e-5},{"s":"s_kE_num","f":0.971,"v":9.65e-5},{"s":"s_kE_num","f":1.01,"v":1.0e-4},{"s":"s_kE_num","f":1.044,"v":5.88e-5},{"s":"s_kE_num","f":1.072,"v":1.53e-4},{"s":"s_kE_num","f":1.1,"v":3.71e-4},{"s":"s_kE_num","f":1.128,"v":1.53e-4},{"s":"s_kE_num","f":1.157,"v":3.98e-4},{"s":"s_kE_num","f":1.185,"v":1.64e-4},{"s":"s_kE_num","f":1.213,"v":9.0e-5},{"s":"s_kE_num","f":1.241,"v":6.31e-5},{"s":"s_kE_num","f":1.269,"v":8.09e-5},{"s":"s_kE_num","f":1.297,"v":5.88e-5},{"s":"s_kE_num","f":1.32,"v":8.38e-5},{"s":"s_kE_num","f":1.348,"v":4.12e-5},{"s":"s_kE_num","f":1.364,"v":1.7e-4},{"s":"s_kE_num","f":1.381,"v":2.42e-4},{"s":"s_kE_num","f":1.409,"v":1.19e-4},{"s":"s_kE_num","f":1.438,"v":9.0e-5},{"s":"s_kE_num","f":1.46,"v":9.65e-5},{"s":"s_kE_num","f":1.494,"v":1.19e-4},{"s":"s_kE_num","f":1.533,"v":8.38e-5},{"s":"s_kE_num","f":1.572,"v":1.07e-4},{"s":"s_kE_num","f":1.606,"v":1.7e-4},{"s":"s_kE_num","f":1.629,"v":2.18e-4},{"s":"s_kE_num","f":1.662,"v":8.38e-4},{"s":"s_kE_num","f":1.685,"v":5.28e-4},{"s":"s_kE_num","f":1.702,"v":4.43e-4},{"s":"s_kE_num","f":1.719,"v":3.11e-4},{"s":"s_kE_num","f":1.741,"v":1.7e-4},{"s":"s_kE_num","f":1.775,"v":1.19e-4},{"s":"s_kE_num","f":1.814,"v":1.7e-4},{"s":"s_kE_num","f":1.842,"v":3.11e-4},{"s":"s_kE_num","f":1.87,"v":2.18e-4},{"s":"s_kE_num","f":1.898,"v":2.6e-4},{"s":"s_kE_num","f":1.927,"v":1.53e-4},{"s":"s_kE_num","f":1.966,"v":7.53e-5},{"s":"s_kE_num","f":1.983,"v":1.38e-4},{"s":"s_kE_num","f":2.011,"v":2.18e-4},{"s":"s_kE_num","f":2.039,"v":1.7e-4},{"s":"s_kE_num","f":2.078,"v":1.19e-4},{"s":"s_kE_num","f":2.112,"v":2.18e-4},{"s":"s_kE_num","f":2.151,"v":3.45e-4},{"s":"s_kE_num","f":2.191,"v":3.98e-4},{"s":"s_kE_num","f":2.224,"v":4.43e-4},{"s":"s_kE_num","f":2.252,"v":3.11e-4},{"s":"s_kE_num","f":2.281,"v":3.45e-4},{"s":"s_kE_num","f":2.32,"v":4.92e-4},{"s":"s_kE_num","f":2.359,"v":5.67e-4},{"s":"s_kE_num","f":2.387,"v":4.12e-4},{"s":"s_kE_num","f":2.415,"v":7.02e-4},{"s":"s_kE_num","f":2.449,"v":5.88e-4},{"s":"s_kE_num","f":2.472,"v":9.0e-4},{"s":"s_kE_num","f":2.5,"v":6.77e-4},{"s":"s_kE_num","f":2.528,"v":1.15e-3},{"s":"s_kE_num","f":2.562,"v":8.09e-4},{"s":"s_kE_num","f":2.584,"v":1.43e-3},{"s":"s_kE_num","f":2.601,"v":1.83e-3},{"s":"s_kE_num","f":2.618,"v":4.43e-3},{"s":"s_kE_num","f":2.64,"v":1.83e-3},{"s":"s_kE_num","f":2.657,"v":1.64e-3},{"s":"s_kE_num","f":2.685,"v":3.11e-3},{"s":"s_kE_num","f":2.714,"v":1.64e-3},{"s":"s_kE_num","f":2.73,"v":3.33e-3},{"s":"s_kE_num","f":2.758,"v":1.83e-3},{"s":"s_kE_num","f":2.786,"v":3.33e-3},{"s":"s_kE_num","f":2.815,"v":2.18e-3},{"s":"s_kE_num","f":2.843,"v":2.6e-3},{"s":"s_kE_num","f":2.871,"v":3.98e-3},{"s":"s_kE_num","f":2.899,"v":3.33e-3},{"s":"s_kE_num","f":2.927,"v":5.67e-3},{"s":"s_kE_num","f":2.955,"v":5.88e-3},{"s":"s_kE_num","f":2.978,"v":4.43e-3},{"s":"s_kE_num","f":2.994,"v":5.28e-3},
      {"s":"u_k","f":0.1,"v":1.43e-3},{"s":"u_k","f":0.117,"v":1.28e-3},{"s":"u_k","f":0.156,"v":9.0e-4},{"s":"u_k","f":0.201,"v":4.43e-4},{"s":"u_k","f":0.224,"v":1.07e-4},{"s":"u_k","f":0.252,"v":2.34e-4},{"s":"u_k","f":0.28,"v":9.0e-5},{"s":"u_k","f":0.308,"v":4.12e-4},{"s":"u_k","f":0.336,"v":1.83e-4},{"s":"u_k","f":0.364,"v":2.18e-4},{"s":"u_k","f":0.392,"v":6.77e-5},{"s":"u_k","f":0.42,"v":2.79e-4},{"s":"u_k","f":0.448,"v":1.7e-4},{"s":"u_k","f":0.477,"v":2.03e-4},{"s":"u_k","f":0.505,"v":2.18e-4},{"s":"u_k","f":0.533,"v":9.65e-4},{"s":"u_k","f":0.561,"v":1.96e-4},{"s":"u_k","f":0.589,"v":1.19e-4},{"s":"u_k","f":0.617,"v":4.12e-5},{"s":"u_k","f":0.651,"v":8.09e-5},{"s":"u_k","f":0.69,"v":7.53e-5},{"s":"u_k","f":0.729,"v":4.12e-5},{"s":"u_k","f":0.758,"v":8.38e-5},{"s":"u_k","f":0.802,"v":7.53e-5},{"s":"u_k","f":0.859,"v":7.02e-5},{"s":"u_k","f":0.915,"v":8.09e-5},{"s":"u_k","f":0.971,"v":7.53e-5},{"s":"u_k","f":1.027,"v":6.31e-5},{"s":"u_k","f":1.084,"v":7.53e-5},{"s":"u_k","f":1.123,"v":6.31e-5},{"s":"u_k","f":1.179,"v":8.09e-5},{"s":"u_k","f":1.235,"v":9.65e-5},{"s":"u_k","f":1.291,"v":1.07e-4},{"s":"u_k","f":1.348,"v":1.7e-4},{"s":"u_k","f":1.376,"v":2.79e-4},{"s":"u_k","f":1.409,"v":1.53e-4},{"s":"u_k","f":1.449,"v":1.07e-4},{"s":"u_k","f":1.477,"v":1.0e-4},{"s":"u_k","f":1.533,"v":1.07e-4},{"s":"u_k","f":1.589,"v":1.07e-4},{"s":"u_k","f":1.646,"v":1.28e-4},{"s":"u_k","f":1.702,"v":1.43e-4},{"s":"u_k","f":1.758,"v":1.64e-4},{"s":"u_k","f":1.814,"v":1.83e-4},{"s":"u_k","f":1.87,"v":1.96e-4},{"s":"u_k","f":1.927,"v":1.96e-4},{"s":"u_k","f":1.983,"v":2.18e-4},{"s":"u_k","f":2.039,"v":2.42e-4},{"s":"u_k","f":2.095,"v":2.79e-4},{"s":"u_k","f":2.151,"v":3.33e-4},{"s":"u_k","f":2.224,"v":4.12e-4},{"s":"u_k","f":2.281,"v":4.75e-4},{"s":"u_k","f":2.337,"v":5.88e-4},{"s":"u_k","f":2.393,"v":6.77e-4},{"s":"u_k","f":2.449,"v":9.0e-4},{"s":"u_k","f":2.506,"v":1.38e-3},{"s":"u_k","f":2.545,"v":1.28e-3},{"s":"u_k","f":2.584,"v":1.53e-3},{"s":"u_k","f":2.64,"v":1.83e-3},{"s":"u_k","f":2.685,"v":2.6e-3},{"s":"u_k","f":2.73,"v":4.12e-3},{"s":"u_k","f":2.77,"v":3.71e-3},{"s":"u_k","f":2.809,"v":6.77e-3},{"s":"u_k","f":2.843,"v":3.71e-3},{"s":"u_k","f":2.882,"v":3.33e-3},{"s":"u_k","f":2.921,"v":3.71e-3},{"s":"u_k","f":2.955,"v":4.12e-3},{"s":"u_k","f":2.994,"v":3.33e-3}
    ],
    "la": [
      {"f":0.325,"v":2.79,"t":"n","r":"sym"},{"f":0.438,"v":2.79,"t":"≈ 1.46","r":"rm"},
      {"f":0.275,"v":2.7e-3,"t":"s","r":"sym"},{"f":0.286,"v":1.19e-3,"t":"n,l","r":"sub"},
      {"f":0.747,"v":2.1e-4,"t":"s","r":"sym"},{"f":0.804,"v":1.38e-4,"t":"n,E","r":"sub"},
      {"f":1.598,"v":9.0e-3,"t":"s","r":"sym"},{"f":1.676,"v":6.77e-3,"t":"n,E","r":"sub"},{"f":1.835,"v":8.68e-3,"t":"(numerical)","r":"note"},
      {"f":2.774,"v":4.92e-4,"t":"f","r":"sym"},{"f":2.825,"v":3.58e-4,"t":"n,θ","r":"sub"},
      {"f":2.774,"v":1.43e-4,"t":"f","r":"sym"},{"f":2.83,"v":1.15e-4,"t":"n0","r":"sub"},
      {"f":1.806,"v":5.1e-5,"t":"s","r":"sym"},{"f":1.868,"v":3.45e-5,"t":"n,δ","r":"sub"},
      {"f":1.282,"v":3.33e-6,"t":"f","r":"sym"},{"f":1.35,"v":2.7e-6,"t":"n,H","r":"sub"},
      {"f":1.232,"v":2.6e-7,"t":"combined uncertainty,","r":"plain"},{"f":2.769,"v":2.6e-7,"t":"u","r":"sym"},{"f":2.88,"v":1.83e-7,"t":"n","r":"sub"}
    ],
    "ra": [
      {"f":1.466,"v":7.02e-3,"t":"κ","r":"sym"},
      {"f":1.629,"v":2.89e-2,"t":"s","r":"sym"},{"f":1.702,"v":2.1e-2,"t":"κ,E","r":"sub"},{"f":1.862,"v":2.89e-2,"t":"(numerical)","r":"note"},
      {"f":2.134,"v":2.79e-3,"t":"s","r":"sym"},{"f":2.19,"v":1.7e-3,"t":"κ,E","r":"sub"},
      {"f":2.769,"v":2.89e-4,"t":"f","r":"sym"},{"f":2.831,"v":2.03e-4,"t":"κ,H","r":"sub"},
      {"f":1.46,"v":1.96e-5,"t":"s","r":"sym"},{"f":1.544,"v":1.38e-5,"t":"κ,l","r":"sub"},
      {"f":1.786,"v":8.09e-6,"t":"f","r":"sym"},{"f":1.853,"v":5.28e-6,"t":"κ,θ","r":"sub"},
      {"f":2.14,"v":2.51e-6,"t":"s","r":"sym"},{"f":2.196,"v":1.64e-6,"t":"κ,δ","r":"sub"},
      {"f":1.617,"v":2.1e-7,"t":"f","r":"sym"},{"f":1.685,"v":1.38e-7,"t":"κ,n0","r":"sub"},
      {"f":1.207,"v":2.89,"t":"combined uncertainty,","r":"plain"},{"f":2.73,"v":2.89,"t":"u","r":"sym"},{"f":2.855,"v":1.89,"t":"κ","r":"sub"}
    ],
    "ll": [
      {"f":0.95,"v":1.83e-4,"f2":1.085,"v2":1.28e-4},
      {"f":2.031,"v":4.75e-3,"f2":2.296,"v2":4.75e-4},
      {"f":2.662,"v":3.22e-4,"f2":2.752,"v2":4.75e-4},
      {"f":2.662,"v":9.65e-5,"f2":2.752,"v2":1.53e-4},
      {"f":1.918,"v":6.31e-5,"f2":2.031,"v2":8.38e-5}
    ],
    "rl": [
      {"f":1.651,"v":1.7e-2,"f2":1.662,"v2":9.0e-4},
      {"f":2.134,"v":1.83e-3,"f2":2.112,"v2":7.53e-4},
      {"f":2.724,"v":2.6e-4,"f2":2.601,"v2":1.53e-4},
      {"f":1.6,"v":2.42e-5,"f2":1.747,"v2":1.7e-5},
      {"f":1.786,"v":7.53e-6,"f2":1.662,"v2":3.71e-6},
      {"f":2.134,"v":1.96e-6,"f2":2.022,"v2":1.19e-6}
    ],
    "lkey": [{"f":0.877,"f2":1.147,"v":2.34e-7}],
    "rkey": [{"f":0.876,"f2":1.152,"v":2.89}],
    "arr": [{"f":0.533,"v":4.75e-2},{"f":1.376,"v":3.11e-2}]
  },
  "hconcat": [
    {
      "width": 515, "height": 520,
      "title": {"text": "(a) standard deviation of n or sₙ", "orient": "bottom", "anchor": "middle", "frame": "group", "font": "Open Sans", "fontSize": 26, "fontWeight": "normal", "color": "#2828f0", "offset": 22},
      "layer": [
        {
          "data": {"name": "a"},
          "transform": [{"filter": "datum.s != 'u_n' && datum.s != 's_nE_num'"}],
          "mark": {"type": "line", "clip": true, "strokeWidth": 2.6, "interpolate": "monotone"},
          "encoding": {
            "x": {"field": "f", "type": "quantitative", "scale": {"domain": [0.1, 3], "nice": false, "zero": false}, "axis": {"orient": "bottom", "values": [0.5, 1, 1.5, 2, 2.5, 3], "format": "~g", "title": "frequency (THz)", "labelFontSize": 25, "titleFontSize": 27, "labelPadding": 24, "titlePadding": 14, "labelFlush": false}},
            "y": {"field": "v", "type": "quantitative", "scale": {"type": "log", "domain": [1e-7, 10], "nice": false}, "axis": {"orient": "left", "values": [1e-6, 1e-4, 1e-2, 1], "labelExpr": "datum.value > 0.5 ? '10⁰' : datum.value > 0.005 ? '10⁻²' : datum.value > 0.00005 ? '10⁻⁴' : '10⁻⁶'", "title": "n and standard deviation of n", "labelFontSize": 20, "titleFontSize": 27, "labelPadding": 9, "titlePadding": 9}},
            "color": {"field": "s", "type": "nominal", "legend": null, "scale": {"domain": ["n","kappa","s_nl","s_kl","f_ntheta","f_ktheta","f_n0","f_kn0","s_ndelta","s_kdelta","s_nE","s_kE","f_nH","f_kH"], "range": ["#c00000","#c00000","#1f7fff","#1f7fff","#aaaaaa","#aaaaaa","#666666","#666666","#ff9900","#ff9900","#1cbc1c","#1cbc1c","#1515ee","#1515ee"]}}
          }
        },
        {
          "data": {"name": "a"},
          "transform": [{"filter": "datum.s == 's_nE_num'"}],
          "mark": {"type": "line", "clip": true, "strokeWidth": 2.8, "strokeDash": [3, 3], "color": "#1cbc1c"},
          "encoding": {"x": {"field": "f", "type": "quantitative", "axis": null}, "y": {"field": "v", "type": "quantitative", "axis": null}}
        },
        {
          "data": {"name": "a"},
          "transform": [{"filter": "datum.s == 'u_n'"}],
          "mark": {"type": "line", "clip": true, "strokeWidth": 5, "strokeDash": [6, 4], "color": "#b00000"},
          "encoding": {"x": {"field": "f", "type": "quantitative", "axis": null}, "y": {"field": "v", "type": "quantitative", "axis": null}}
        },
        {
          "data": {"name": "lkey"},
          "mark": {"type": "rule", "strokeWidth": 5, "strokeDash": [6, 4], "color": "#b00000"},
          "encoding": {"x": {"field": "f", "type": "quantitative", "axis": null}, "x2": {"field": "f2"}, "y": {"field": "v", "type": "quantitative", "axis": null}}
        },
        {
          "data": {"name": "ll"},
          "mark": {"type": "rule", "strokeWidth": 1, "color": "#999999"},
          "encoding": {
            "x": {"field": "f", "type": "quantitative", "axis": {"orient": "top", "values": [0.5, 1, 1.5, 2, 2.5, 3], "labels": false, "title": null}},
            "x2": {"field": "f2"},
            "y": {"field": "v", "type": "quantitative", "axis": {"orient": "right", "values": [1e-6, 1e-4, 1e-2, 1], "labels": false, "title": null}},
            "y2": {"field": "v2"}
          }
        },
        {
          "data": {"name": "la"},
          "transform": [{"filter": "datum.r == 'sym'"}],
          "mark": {"type": "text", "align": "left", "baseline": "middle", "font": "Liberation Serif", "fontStyle": "italic", "fontSize": 29, "color": "#333333"},
          "encoding": {"x": {"field": "f", "type": "quantitative", "axis": null}, "y": {"field": "v", "type": "quantitative", "axis": null}, "text": {"field": "t"}}
        },
        {
          "data": {"name": "la"},
          "transform": [{"filter": "datum.r == 'sub'"}],
          "mark": {"type": "text", "align": "left", "baseline": "middle", "font": "Liberation Serif", "fontStyle": "italic", "fontSize": 17, "color": "#333333"},
          "encoding": {"x": {"field": "f", "type": "quantitative", "axis": null}, "y": {"field": "v", "type": "quantitative", "axis": null}, "text": {"field": "t"}}
        },
        {
          "data": {"name": "la"},
          "transform": [{"filter": "datum.r == 'rm'"}],
          "mark": {"type": "text", "align": "left", "baseline": "middle", "font": "Liberation Serif", "fontSize": 29, "color": "#333333"},
          "encoding": {"x": {"field": "f", "type": "quantitative", "axis": null}, "y": {"field": "v", "type": "quantitative", "axis": null}, "text": {"field": "t"}}
        },
        {
          "data": {"name": "la"},
          "transform": [{"filter": "datum.r == 'plain'"}],
          "mark": {"type": "text", "align": "left", "baseline": "middle", "font": "Open Sans", "fontSize": 25.5, "color": "#333333"},
          "encoding": {"x": {"field": "f", "type": "quantitative", "axis": null}, "y": {"field": "v", "type": "quantitative", "axis": null}, "text": {"field": "t"}}
        },
        {
          "data": {"name": "la"},
          "transform": [{"filter": "datum.r == 'note'"}],
          "mark": {"type": "text", "align": "left", "baseline": "middle", "font": "Open Sans", "fontSize": 21, "color": "#333333"},
          "encoding": {"x": {"field": "f", "type": "quantitative", "axis": null}, "y": {"field": "v", "type": "quantitative", "axis": null}, "text": {"field": "t"}}
        }
      ]
    },
    {
      "width": 516, "height": 520,
      "title": {"text": "(b) standard deviation of κ or sₖ", "orient": "bottom", "anchor": "middle", "frame": "group", "font": "Open Sans", "fontSize": 26, "fontWeight": "normal", "color": "#2828f0", "offset": 22},
      "layer": [
        {
          "data": {"name": "b"},
          "transform": [{"filter": "datum.s != 'u_k' && datum.s != 's_kE_num'"}],
          "mark": {"type": "line", "clip": true, "strokeWidth": 2.6, "interpolate": "monotone"},
          "encoding": {
            "x": {"field": "f", "type": "quantitative", "scale": {"domain": [0.1, 3], "nice": false, "zero": false}, "axis": {"orient": "bottom", "values": [0.5, 1, 1.5, 2, 2.5, 3], "format": "~g", "title": "frequency (THz)", "labelFontSize": 25, "titleFontSize": 27, "labelPadding": 24, "titlePadding": 14, "labelFlush": false}},
            "y": {"field": "v", "type": "quantitative", "scale": {"type": "log", "domain": [1e-7, 10], "nice": false}, "axis": {"orient": "left", "values": [1e-6, 1e-4, 1e-2, 1], "labels": false, "title": "κ and standard deviation of κ", "titleFontSize": 27, "titlePadding": 10}},
            "color": {"field": "s", "type": "nominal", "legend": null, "scale": {"domain": ["n","kappa","s_nl","s_kl","f_ntheta","f_ktheta","f_n0","f_kn0","s_ndelta","s_kdelta","s_nE","s_kE","f_nH","f_kH"], "range": ["#c00000","#c00000","#1f7fff","#1f7fff","#aaaaaa","#aaaaaa","#666666","#666666","#ff9900","#ff9900","#1cbc1c","#1cbc1c","#1515ee","#1515ee"]}}
          }
        },
        {
          "data": {"name": "b"},
          "transform": [{"filter": "datum.s == 's_kE_num'"}],
          "mark": {"type": "line", "clip": true, "strokeWidth": 2.8, "strokeDash": [3, 3], "color": "#1cbc1c"},
          "encoding": {"x": {"field": "f", "type": "quantitative", "axis": null}, "y": {"field": "v", "type": "quantitative", "axis": null}}
        },
        {
          "data": {"name": "b"},
          "transform": [{"filter": "datum.s == 'u_k'"}],
          "mark": {"type": "line", "clip": true, "strokeWidth": 5, "strokeDash": [6, 4], "color": "#b00000"},
          "encoding": {"x": {"field": "f", "type": "quantitative", "axis": null}, "y": {"field": "v", "type": "quantitative", "axis": null}}
        },
        {
          "data": {"name": "rkey"},
          "mark": {"type": "rule", "strokeWidth": 5, "strokeDash": [6, 4], "color": "#b00000"},
          "encoding": {"x": {"field": "f", "type": "quantitative", "axis": null}, "x2": {"field": "f2"}, "y": {"field": "v", "type": "quantitative", "axis": null}}
        },
        {
          "data": {"name": "arr"},
          "mark": {"type": "point", "shape": "M-0.95,-1L0,-0.45L0.95,-1L0,1Z", "size": 480, "filled": true, "opacity": 1, "color": "#b00000"},
          "encoding": {"x": {"field": "f", "type": "quantitative", "axis": null}, "y": {"field": "v", "type": "quantitative", "axis": null}}
        },
        {
          "data": {"name": "rl"},
          "mark": {"type": "rule", "strokeWidth": 1, "color": "#999999"},
          "encoding": {
            "x": {"field": "f", "type": "quantitative", "axis": {"orient": "top", "values": [0.5, 1, 1.5, 2, 2.5, 3], "labels": false, "title": null}},
            "x2": {"field": "f2"},
            "y": {"field": "v", "type": "quantitative", "axis": {"orient": "right", "values": [1e-6, 1e-4, 1e-2, 1], "labels": false, "title": null}},
            "y2": {"field": "v2"}
          }
        },
        {
          "data": {"name": "ra"},
          "transform": [{"filter": "datum.r == 'sym'"}],
          "mark": {"type": "text", "align": "left", "baseline": "middle", "font": "Liberation Serif", "fontStyle": "italic", "fontSize": 29, "color": "#333333"},
          "encoding": {"x": {"field": "f", "type": "quantitative", "axis": null}, "y": {"field": "v", "type": "quantitative", "axis": null}, "text": {"field": "t"}}
        },
        {
          "data": {"name": "ra"},
          "transform": [{"filter": "datum.r == 'sub'"}],
          "mark": {"type": "text", "align": "left", "baseline": "middle", "font": "Liberation Serif", "fontStyle": "italic", "fontSize": 17, "color": "#333333"},
          "encoding": {"x": {"field": "f", "type": "quantitative", "axis": null}, "y": {"field": "v", "type": "quantitative", "axis": null}, "text": {"field": "t"}}
        },
        {
          "data": {"name": "ra"},
          "transform": [{"filter": "datum.r == 'plain'"}],
          "mark": {"type": "text", "align": "left", "baseline": "middle", "font": "Open Sans", "fontSize": 25.5, "color": "#333333"},
          "encoding": {"x": {"field": "f", "type": "quantitative", "axis": null}, "y": {"field": "v", "type": "quantitative", "axis": null}, "text": {"field": "t"}}
        },
        {
          "data": {"name": "ra"},
          "transform": [{"filter": "datum.r == 'note'"}],
          "mark": {"type": "text", "align": "left", "baseline": "middle", "font": "Open Sans", "fontSize": 21, "color": "#333333"},
          "encoding": {"x": {"field": "f", "type": "quantitative", "axis": null}, "y": {"field": "v", "type": "quantitative", "axis": null}, "text": {"field": "t"}}
        }
      ]
    }
  ]
}
